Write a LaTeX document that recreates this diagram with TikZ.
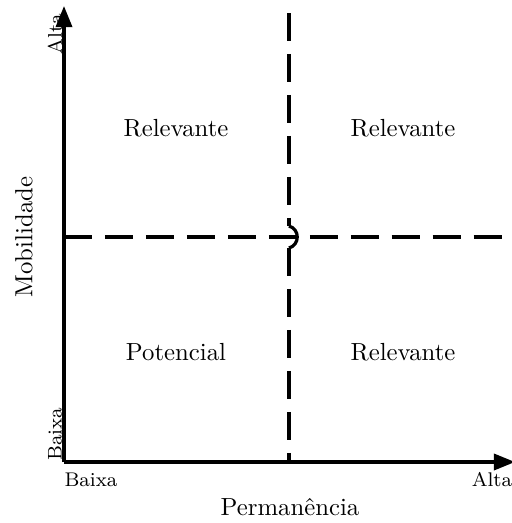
\documentclass[tikz,border=0pt]{standalone}
\usepackage{amsmath,amssymb}
\usepackage{xcolor}
\usepackage{tikz}
\usetikzlibrary{arrows.meta,positioning,calc}

\begin{document}
\begin{tikzpicture}[
  x=0.404pt, y=-0.404pt,
  axisline/.style={-{Triangle[length=8.5pt,width=6.5pt]}, line width=1.3pt},
  divline/.style={line width=1.3pt, dash pattern=on 11.3pt off 5.25pt},
  quad/.style={font=\normalsize},
  tick/.style={font=\footnotesize, inner sep=1pt},
]
\useasboundingbox (0,0) rectangle (512,523);
% axes
\coordinate (orig) at (64,462);
\coordinate (ytop) at (64,6);
\coordinate (xend) at (515,462);
\draw[axisline] (orig) -- (ytop);
\draw[axisline] (orig) -- (xend);
% quadrant dividers
\coordinate (vtop) at (289,13);
\coordinate (vhop) at (289,226);
\coordinate (vlow) at (289,248);
\coordinate (vbot) at (289,462);
\coordinate (hleft) at (64,237);
\coordinate (hright) at (512,237);
\draw[divline] (hleft) -- (hright);
\draw[divline] (vtop) -- (vhop);
\draw[line width=1.3pt] (vhop) .. controls (300,229) and (300,245) .. (vlow);
\draw[divline] (vlow) -- (vbot);
% quadrant labels
\node[quad] (q2) at (176,128) {Relevante};
\node[quad] (q1) at (403,128) {Relevante};
\node[quad] (q3) at (176,352) {Potencial};
\node[quad] (q4) at (403,352) {Relevante};
% axis labels
\node[rotate=90] (ylab) at (24,237) {Mobilidade};
\node (xlab) at (290,507) {Permanência};
\node[tick, rotate=90] (yhigh) at (55,34) {Alta};
\node[tick, rotate=90] (ylow) at (55,434) {Baixa};
\node[tick] (xlow) at (91,480) {Baixa};
\node[tick] (xhigh) at (492,480) {Alta};
\end{tikzpicture}
\end{document}
